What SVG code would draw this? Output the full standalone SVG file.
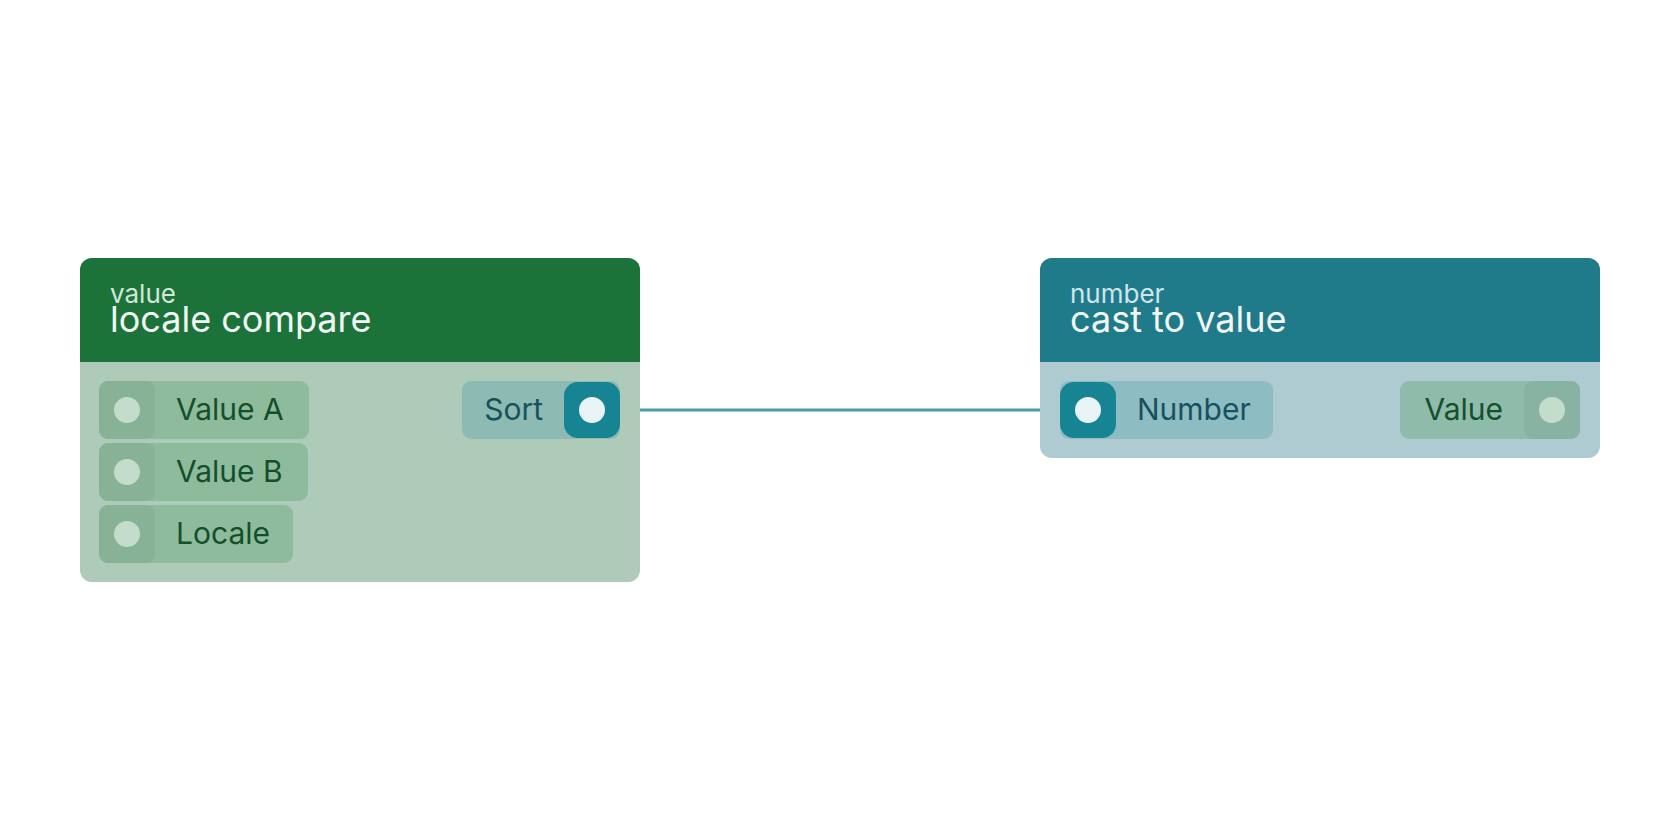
<svg xmlns="http://www.w3.org/2000/svg" width="1680" height="840" viewBox="0 0 1680 840">
<style>
text{font-family:Inter,"Noto Sans",sans-serif}
.sub{font-size:26px;fill:#d2e6d9}
.ttl{font-size:36px;fill:#f2f7f4}
.lbl{font-size:30px}
.g{fill:#144f2b}
.t{fill:#16515d}
</style>
<rect width="1680" height="840" fill="#fff"/>
<g id="connectors"><path d="M620 410H1062" stroke="#4b9ba7" stroke-width="3" fill="none"/></g>
<g id="locale-compare">
<rect x="80" y="258" width="560" height="324" rx="12" fill="#adcbb8"/>
<path d="M80 362V270a12 12 0 0 1 12-12h536a12 12 0 0 1 12 12v92z" fill="#1c733a"/>
<text x="110" y="303" class="sub">value</text>
<text x="110" y="332" class="ttl">locale compare</text>
<rect x="99" y="381" width="210" height="58" rx="9" fill="#8fbb9d"/>
<rect x="99" y="381" width="56" height="58" rx="9" fill="#87b295"/>
<circle cx="127" cy="410" r="13" fill="#c3dccb"/>
<text x="176" y="420" class="lbl g">Value A</text>
<rect x="99" y="443" width="209" height="58" rx="9" fill="#8fbb9d"/>
<rect x="99" y="443" width="56" height="58" rx="9" fill="#87b295"/>
<circle cx="127" cy="472" r="13" fill="#c3dccb"/>
<text x="176" y="482" class="lbl g">Value B</text>
<rect x="99" y="505" width="194" height="58" rx="9" fill="#8fbb9d"/>
<rect x="99" y="505" width="56" height="58" rx="9" fill="#87b295"/>
<circle cx="127" cy="534" r="13" fill="#c3dccb"/>
<text x="176" y="544" class="lbl g">Locale</text>
<rect x="462" y="381" width="158" height="58" rx="9" fill="#8dbab2"/>
<rect x="564" y="382" width="56" height="56" rx="14" fill="#178493"/>
<circle cx="592" cy="410" r="13" fill="#e7f3f5"/>
<text x="543" y="420" class="lbl t" text-anchor="end">Sort</text>
</g>
<g id="cast-to-value">
<rect x="1040" y="258" width="560" height="200" rx="12" fill="#aecbd1"/>
<path d="M1040 362V270a12 12 0 0 1 12-12h536a12 12 0 0 1 12 12v92z" fill="#1f7b89"/>
<text x="1070" y="303" class="sub" style="fill:#cfe5ea">number</text>
<text x="1070" y="332" class="ttl">cast to value</text>
<rect x="1060" y="381" width="213" height="58" rx="9" fill="#8ebcc3"/>
<rect x="1060" y="382" width="56" height="56" rx="14" fill="#178493"/>
<circle cx="1088" cy="410" r="13" fill="#e7f3f5"/>
<text x="1137" y="420" class="lbl t">Number</text>
<rect x="1400" y="381" width="180" height="58" rx="9" fill="#8fbbab"/>
<rect x="1524" y="381" width="56" height="58" rx="9" fill="#88b3a3"/>
<circle cx="1552" cy="410" r="13" fill="#c3dccb"/>
<text x="1503" y="420" class="lbl g" text-anchor="end">Value</text>
</g>
</svg>
